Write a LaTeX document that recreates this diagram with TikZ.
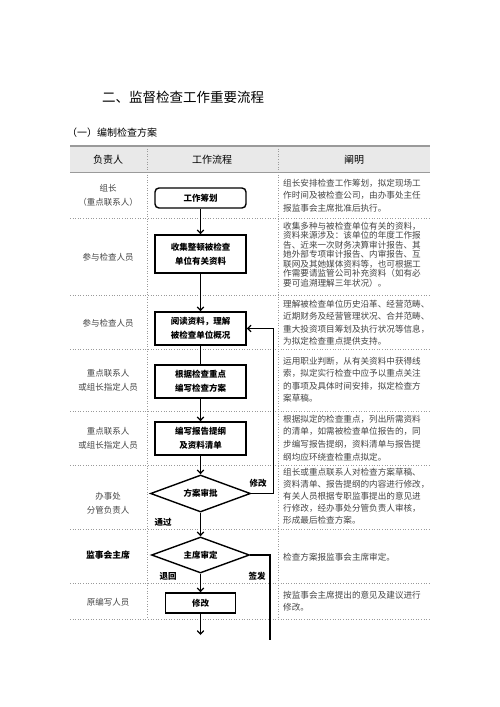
\documentclass[tikz,border=0pt]{standalone}
\usepackage{fontspec}
\setmainfont{Noto Sans CJK SC}
\usepackage{xcolor}
\usetikzlibrary{shapes.geometric,arrows.meta,positioning,calc}
\definecolor{headgray}{HTML}{E9E9E9}
\definecolor{linegray}{HTML}{9A9A9A}
\definecolor{textgray}{HTML}{444444}

\begin{document}
\begin{tikzpicture}[x=1pt, y=-1pt,
    flowbox/.style={draw, line width=1.4pt, minimum width=91pt, inner sep=0pt, align=center, font=\fontsize{8.5}{14}\selectfont\bfseries},
    decision/.style={draw, diamond, aspect=2.7, line width=1.4pt, minimum width=100pt, minimum height=37pt, inner sep=0pt, font=\fontsize{8.5}{10}\selectfont\bfseries},
    flowarrow/.style={line width=1.2pt, -{Straight Barb[length=3.5pt,width=6.5pt]}},
    flowlabel/.style={font=\fontsize{8.5}{10}\selectfont\bfseries},
    desc/.style={anchor=north west, inner sep=0pt, align=left, text=textgray},
    who/.style={align=center, text=textgray, font=\fontsize{8.5}{14}\selectfont}]
    \useasboundingbox (0,0) rectangle (500,707);

    % Title and subtitle
    \node [font=\fontsize{13.5}{16}\selectfont] (title) at (183,97) {二、监督检查工作重要流程};
    \node [anchor=west, inner sep=0pt, font=\fontsize{10}{12}\selectfont] (subtitle) at (67,133) {（一）编制检查方案};

    % Header band
    \fill [headgray] (70,146) rectangle (430,172);
    \draw [linegray, line width=1.5pt] (70,146) -- (430,146);
    \draw [linegray, line width=0.8pt] (70,172) -- (430,172);
    \foreach \x/\label in {108/负责人, 212/工作流程, 354/阐明} {
        \node [font=\fontsize{10}{12}\selectfont] (head\x) at (\x,160) {\label};
    }

    % Row and column separators
    \foreach \y in {218,295,349,411,465,529,583,619} {
        \draw [linegray, dotted, line width=0.6pt] (70,\y) -- (430,\y);
    }
    \foreach \x in {147,278} {
        \draw [linegray, dotted, line width=0.6pt] (\x,146) -- (\x,619);
    }

    % Responsible persons
    \foreach \y/\label in {195/{组长\\（重点联系人）}, 257/参与检查人员, 323/参与检查人员, 380/{重点联系人\\或组长指定人员}, 438.5/{重点联系人\\或组长指定人员}, 503.5/{办事处\\分管负责人}, 602/原编写人员} {
        \node [who] (who\y) at (108,\y) {\label};
    }
    \node [font=\fontsize{8.8}{10}\selectfont\bfseries] (whochair) at (108,555) {监事会主席};

    % Explanations
    \node [desc, font=\fontsize{8.6}{12.5}\selectfont] (d1) at (283,178.6) {组长安排检查工作筹划，拟定现场工\\作时间及被检查公司，由办事处主任\\报监事会主席批准后执行。};
    \node [desc, font=\fontsize{8.6}{9.5}\selectfont] (d2) at (283,221.6) {收集多种与被检查单位有关的资料，\\资料来源涉及：该单位的年度工作报\\告、近来一次财务决算审计报告、其\\她外部专项审计报告、内审报告、互\\联网及其她媒体资料等，也可根据工\\作需要请监管公司补充资料（如有必\\要可追溯理解三年状况）。};
    \node [desc, font=\fontsize{8.6}{12.5}\selectfont] (d3) at (283,299.6) {理解被检查单位历史沿革、经营范畴、\\近期财务及经营管理状况、合并范畴、\\重大投资项目筹划及执行状况等信息，\\为拟定检查重点提供支持。};
    \node [desc, font=\fontsize{8.6}{12.5}\selectfont] (d4) at (283,356.6) {运用职业判断，从有关资料中获得线\\索，拟定实行检查中应予以重点关注\\的事项及具体时间安排，拟定检查方\\案草稿。};
    \node [desc, font=\fontsize{8.6}{12.7}\selectfont] (d5) at (283,414.6) {根据拟定的检查重点，列出所需资料\\的清单，如需被检查单位报告的，同\\步编写报告提纲，资料清单与报告提\\纲均应环绕查检重点拟定。};
    \node [desc, font=\fontsize{8.6}{12}\selectfont] (d6) at (283,467.6) {组长或重点联系人对检查方案草稿、\\资料清单、报告提纲的内容进行修改，\\有关人员根据专职监事提出的意见进\\行修改，经办事处分管负责人审核，\\形成最后检查方案。};
    \node [desc, font=\fontsize{8.6}{12}\selectfont] (d7) at (283,552.6) {检查方案报监事会主席审定。};
    \node [desc, font=\fontsize{8.6}{12}\selectfont] (d8) at (283,590.6) {按监事会主席提出的意见及建议进行\\修改。};

    % Flow
    \node [flowbox, rounded corners=4pt, minimum height=20pt] (plan) at (200.5,198) {工作筹划};
    \node [flowbox, minimum height=38pt] (collect) at (200.5,254) {收集整顿被检查\\单位有关资料};
    \node [flowbox, minimum height=33pt] (read) at (200.5,328.5) {阅读资料，理解\\被检查单位概况};
    \node [flowbox, minimum height=33pt] (draft) at (200.5,381.5) {根据检查重点\\编写检查方案};
    \node [flowbox, minimum height=33pt] (outline) at (200.5,438.5) {编写报告提纲\\及资料清单};
    \node [decision] (approve) at (200.5,493.5) {方案审批};
    \node [decision, minimum width=98pt, minimum height=36pt] (chair) at (200.5,555) {主席审定};
    \node [flowbox, minimum width=70pt, minimum height=20pt] (revise) at (200.5,603) {修改};
    \coordinate (flowend) at (200.5,635);
    \coordinate (signed) at (270,640);

    \draw [flowarrow] (plan) -- (collect);
    \draw [flowarrow] (collect) -- (read);
    \draw [line width=1.2pt] (read) -- (draft);
    \draw [flowarrow] (draft) -- (outline);
    \draw [flowarrow] (outline) -- (approve);
    \draw [flowarrow] (approve) -- (chair);
    \draw [flowarrow] (chair) -- (revise);
    \draw [flowarrow] (revise) -- (flowend);
    \draw [flowarrow] (approve.east) -- ++(22,0) |- (read.east);
    \draw [line width=1.2pt] (chair.east) -| (signed);

    % Branch labels
    \node [flowlabel] (modify) at (258,483) {修改};
    \node [flowlabel] (pass) at (163,522) {通过};
    \node [flowlabel] (back) at (168,576) {退回};
    \node [flowlabel] (sign) at (257,576) {签发};
\end{tikzpicture}
\end{document}
